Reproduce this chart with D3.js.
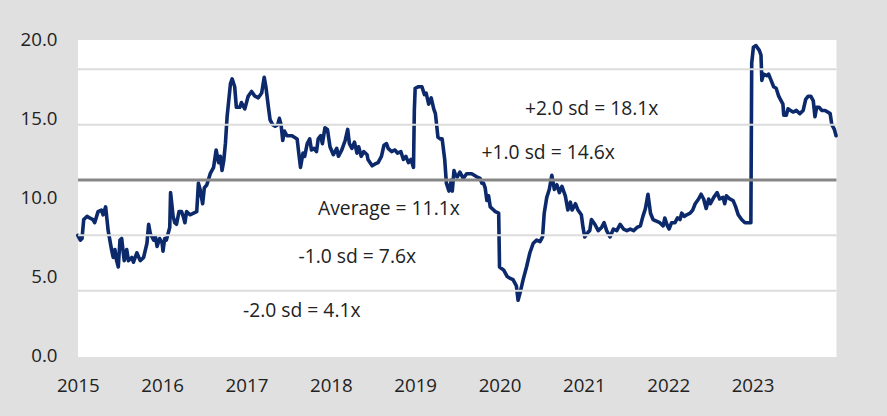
<!DOCTYPE html>
<html>
<head>
<meta charset="utf-8">
<script src="https://cdn.jsdelivr.net/npm/d3@7"></script>
<style>
  html, body { margin: 0; padding: 0; background: #e0e0e0; }
  svg { display: block; }
  text { font-family: "Open Sans", "Noto Sans", sans-serif; fill: #222; }
</style>
</head>
<body>
<svg id="chart" width="887" height="416"></svg>
<script>
// ---- data ----
const yearTicks = [2015, 2016, 2017, 2018, 2019, 2020, 2021, 2022, 2023];
const valueTicks = [0, 5, 10, 15, 20];
const average = 11.1;
const sdLevels = [18.1, 14.6, 7.6, 4.1];
const bandLabels = ["+2.0 sd = 18.1x", "+1.0 sd = 14.6x", "Average = 11.1x", "-1.0 sd = 7.6x", "-2.0 sd = 4.1x"];
const bandLabelLevels = [18.1, 14.6, 11.1, 7.6, 4.1];

const dates = [
2015.00,2015.03,2015.05,2015.07,2015.11,2015.14,2015.18,2015.20,2015.24,2015.28,2015.30,2015.33,2015.36,2015.40,2015.42,2015.44,2015.46,2015.48,2015.50,2015.52,
2015.55,2015.58,2015.60,2015.64,2015.66,2015.70,2015.74,2015.78,2015.82,2015.84,2015.86,2015.90,2015.92,2015.94,2015.97,2016.00,2016.01,2016.03,2016.05,2016.09,
2016.10,2016.13,2016.15,2016.17,2016.20,2016.23,2016.25,2016.27,2016.29,2016.33,2016.41,2016.43,2016.45,2016.48,2016.50,2016.53,2016.57,2016.61,2016.64,2016.67,
2016.69,2016.71,2016.73,2016.75,2016.77,2016.81,2016.83,2016.86,2016.88,2016.92,2016.94,2016.98,2017.02,2017.06,2017.10,2017.14,2017.18,2017.21,2017.23,2017.26,
2017.28,2017.31,2017.34,2017.37,2017.39,2017.41,2017.43,2017.45,2017.48,2017.54,2017.60,2017.64,2017.67,2017.69,2017.72,2017.75,2017.77,2017.80,2017.83,2017.85,
2017.88,2017.90,2017.93,2017.96,2017.99,2018.03,2018.07,2018.09,2018.13,2018.17,2018.20,2018.22,2018.25,2018.28,2018.31,2018.33,2018.36,2018.39,2018.43,2018.44,
2018.49,2018.52,2018.56,2018.60,2018.63,2018.66,2018.68,2018.72,2018.76,2018.79,2018.83,2018.86,2018.89,2018.92,2018.95,2018.98,2018.99,2019.00,2019.04,2019.08,
2019.11,2019.13,2019.16,2019.19,2019.22,2019.24,2019.27,2019.30,2019.32,2019.35,2019.37,2019.40,2019.43,2019.44,2019.46,2019.48,2019.50,2019.53,2019.57,2019.61,
2019.67,2019.73,2019.77,2019.79,2019.81,2019.83,2019.85,2019.87,2019.89,2019.93,2019.95,2019.99,2020.00,2020.05,2020.09,2020.12,2020.16,2020.20,2020.22,2020.25,
2020.28,2020.32,2020.36,2020.40,2020.44,2020.48,2020.51,2020.53,2020.56,2020.59,2020.62,2020.65,2020.68,2020.71,2020.74,2020.78,2020.81,2020.84,2020.86,2020.90,
2020.93,2020.97,2020.99,2021.01,2021.05,2021.07,2021.09,2021.13,2021.17,2021.21,2021.24,2021.27,2021.31,2021.35,2021.39,2021.43,2021.47,2021.51,2021.55,2021.59,
2021.63,2021.67,2021.70,2021.73,2021.76,2021.79,2021.82,2021.86,2021.90,2021.94,2021.96,2021.99,2022.01,2022.04,2022.08,2022.11,2022.14,2022.16,2022.19,2022.22,
2022.26,2022.29,2022.32,2022.36,2022.39,2022.42,2022.45,2022.48,2022.50,2022.54,2022.58,2022.61,2022.65,2022.67,2022.69,2022.73,2022.77,2022.80,2022.83,2022.87,
2022.91,2022.95,2022.98,2022.99,2023.01,2023.04,2023.08,2023.10,2023.11,2023.13,2023.17,2023.19,2023.22,2023.25,2023.28,2023.31,2023.33,2023.36,2023.37,2023.40,
2023.42,2023.45,2023.48,2023.52,2023.56,2023.60,2023.63,2023.66,2023.69,2023.72,2023.74,2023.76,2023.79,2023.82,2023.86,2023.89,2023.92,2023.94,2023.97,2023.99
];
const peValues = [
7.6,7.3,7.4,8.6,8.8,8.7,8.6,8.4,9.1,9.2,8.9,9.4,7.9,6.7,6.2,6.7,6.0,5.6,7.3,7.4,
6.0,6.7,6.0,6.2,5.9,6.5,6.0,6.2,7.1,8.3,7.7,7.3,7.5,6.9,7.4,7.1,6.6,7.4,7.3,8.1,
10.3,8.8,8.4,8.3,9.1,9.1,8.8,8.4,9.1,8.9,9.1,10.9,10.5,9.6,10.6,10.8,11.5,11.9,13.0,12.2,
12.6,11.7,12.3,13.4,15.1,17.2,17.5,17.0,15.7,15.7,16.0,15.6,16.4,16.7,16.4,16.3,16.6,17.6,17.0,15.7,
14.9,14.6,14.5,14.6,15.0,14.6,13.6,14.2,13.9,13.9,13.7,11.9,12.8,12.6,13.4,13.7,13.0,13.1,12.9,13.7,
13.9,13.4,14.4,14.3,13.2,12.7,13.1,12.6,13.0,13.6,14.3,13.4,13.1,13.5,12.8,13.2,12.6,12.9,12.7,12.4,
12.0,12.1,12.2,12.6,13.3,13.4,13.1,12.9,13.0,12.8,12.9,12.4,12.6,12.2,12.4,11.9,15.5,16.9,17.0,17.0,
16.5,16.6,15.9,16.3,15.6,15.3,13.8,13.7,13.7,12.4,10.9,10.4,11.1,10.4,11.7,11.4,11.3,11.6,11.2,11.5,
11.5,11.3,11.2,10.9,10.9,10.6,9.8,10.1,9.4,9.2,9.1,9.0,5.6,5.4,5.0,4.9,4.8,4.4,3.5,4.1,
4.8,5.6,6.5,7.1,7.3,7.2,7.5,9.0,10.0,10.5,11.4,10.5,10.8,10.3,10.7,10.1,9.2,9.7,9.2,9.6,
9.2,8.9,8.1,7.5,7.8,7.9,8.6,8.3,7.9,8.1,8.4,7.9,7.5,8.0,7.9,8.3,8.0,7.9,8.0,7.9,
8.1,8.2,8.8,9.3,10.2,9.0,8.6,8.5,8.4,8.2,8.7,8.2,8.0,8.4,8.4,8.7,8.6,9.0,8.8,8.9,
9.0,9.2,9.6,9.9,10.2,9.9,9.3,9.9,9.6,10.0,10.3,9.9,10.0,9.6,10.1,9.9,9.8,9.4,8.9,8.6,
8.4,8.4,8.4,18.5,19.5,19.6,19.3,19.0,17.4,17.8,17.7,17.8,17.4,17.0,16.9,16.4,16.2,15.9,15.2,15.2,
15.6,15.5,15.4,15.5,15.3,15.5,16.2,16.4,16.4,16.1,15.1,15.7,15.7,15.5,15.5,15.4,15.3,14.6,14.3,13.9
];

// ---- layout ----
const W = 887, H = 416;
const plot = { left: 78, right: 836.5, top: 40, bottom: 357 };
const svg = d3.select("#chart");

const x = d3.scaleLinear().domain([2015, 2024]).range([77.8, 836.9]);
const y = d3.scaleLinear().domain([0, 20]).range([355.5, 39.3]);

svg.append("rect").attr("width", W).attr("height", H).attr("fill", "#e0e0e0");
svg.append("rect")
  .attr("x", plot.left).attr("y", plot.top)
  .attr("width", plot.right - plot.left).attr("height", plot.bottom - plot.top)
  .attr("fill", "#ffffff");

// data line
const pts = dates.map((d, i) => [d, peValues[i]]);
svg.append("path")
  .datum(pts)
  .attr("fill", "none")
  .attr("stroke", "#0c2a6b")
  .attr("stroke-width", 3.6)
  .attr("stroke-linejoin", "round")
  .attr("stroke-linecap", "round")
  .attr("d", d3.line().x(d => x(d[0])).y(d => y(d[1])));

// sd gridlines (drawn on top, as in the reference)
svg.selectAll("line.sd")
  .data(sdLevels)
  .enter().append("line")
  .attr("class", "sd")
  .attr("x1", plot.left).attr("x2", plot.right)
  .attr("y1", d => y(d)).attr("y2", d => y(d))
  .attr("stroke", "#dcdcdc")
  .attr("stroke-width", 2);

svg.append("line")
  .attr("x1", plot.left).attr("x2", plot.right)
  .attr("y1", y(average)).attr("y2", y(average))
  .attr("stroke", "#878787")
  .attr("stroke-width", 3);

// band labels
const labelX = [525, 481.5, 318, 298.5, 243];
const labelDy = [38.7, 28, 28, 21.4, 20];
svg.selectAll("text.band")
  .data(bandLabels)
  .enter().append("text")
  .attr("class", "band")
  .attr("x", (d, i) => labelX[i])
  .attr("y", (d, i) => y(bandLabelLevels[i]) + labelDy[i])
  .attr("dy", "0.35em")
  .attr("font-size", "19.3px")
  .text(d => d);

// axes
const xAxis = d3.axisBottom(x).tickValues(yearTicks).tickFormat(d3.format("d")).tickSize(0).tickPadding(0);
const gx = svg.append("g").attr("transform", "translate(0,385)").call(xAxis);
gx.select(".domain").remove();
gx.selectAll("text").attr("font-size", "18.7px").attr("dy", "0.35em").attr("y", 0)
  .style("font-family", '"Open Sans", "Noto Sans", sans-serif').attr("fill", "#222");

const yAxis = d3.axisLeft(y).tickValues(valueTicks).tickFormat(d3.format(".1f")).tickSize(0).tickPadding(0);
const gy = svg.append("g").attr("transform", "translate(57.5,0)").call(yAxis);
gy.select(".domain").remove();
gy.selectAll("text").attr("font-size", "18.7px").attr("x", 0)
  .style("font-family", '"Open Sans", "Noto Sans", sans-serif').attr("fill", "#222");
</script>
</body>
</html>
